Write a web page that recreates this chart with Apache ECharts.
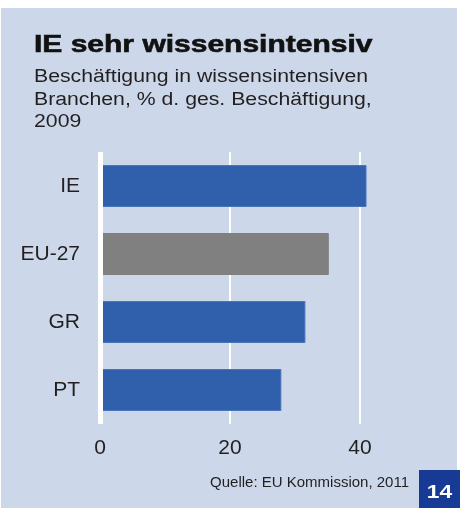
<!DOCTYPE html>
<html>
<head>
<meta charset="utf-8">
<script src="https://cdn.jsdelivr.net/npm/echarts@6/dist/echarts.min.js"></script>
<style>
  html, body { margin: 0; padding: 0; background: #ffffff; }
  #chart { width: 460px; height: 508px; }
</style>
</head>
<body>
<div id="chart"></div>
<script>
// data
const categories = ['IE', 'EU-27', 'GR', 'PT'];
const shares = [41.0, 35.2, 31.6, 27.9];
const barColors = ['#3060ab', '#808080', '#3060ab', '#3060ab'];
const xTicks = [0, 20, 40];

const title = 'IE sehr wissensintensiv';
const subtitleLines = ['Beschäftigung in wissensintensiven', 'Branchen, % d. ges. Beschäftigung,', '2009'];
const source = 'Quelle: EU Kommission, 2011';
const pageNo = '14';

const bg = '#ccd8ea';
const ink = '#231f20';

let chart = echarts.init(document.getElementById('chart'));

let graphics = [
  { type: 'rect', shape: { x: 1, y: 8, width: 456, height: 500 }, style: { fill: bg }, z: -10 },
  { type: 'text', x: 34, y: 45.5, scaleX: 1.25,
    style: { text: title, font: 'bold 24px "Liberation Sans", Arial, sans-serif', fill: '#111111',
      stroke: '#111111', lineWidth: 0.6, verticalAlign: 'middle' } },
  { type: 'text', x: 409, y: 483, style: { text: source, font: '15px "Liberation Sans", Arial, sans-serif', fill: ink, align: 'right', verticalAlign: 'middle' } },
  { type: 'rect', shape: { x: 419, y: 470, width: 41, height: 38 }, style: { fill: '#173b94' } },
  { type: 'text', x: 439.5, y: 492.5, scaleX: 1.2,
    style: { text: pageNo, font: 'bold 19px "Liberation Sans", Arial, sans-serif', fill: '#ffffff', align: 'center', verticalAlign: 'middle' } }
];
subtitleLines.forEach((line, i) => {
  graphics.push({ type: 'text', x: 34, y: 77.5 + i * 22.5, scaleX: 1.18,
    style: { text: line, font: '18px "Liberation Sans", Arial, sans-serif', fill: ink, verticalAlign: 'middle' } });
});

const option = {
  backgroundColor: '#ffffff',
  animation: false,
  textStyle: { fontFamily: '"Liberation Sans", Arial, sans-serif' },
  graphic: graphics,
  grid: { left: 100, top: 152, width: 260, height: 272, containLabel: false },
  xAxis: {
    type: 'value',
    min: xTicks[0],
    max: xTicks[xTicks.length - 1],
    interval: 20,
    axisLine: { show: false },
    axisTick: { show: false },
    splitLine: { show: true, lineStyle: { color: '#ffffff', width: 2 } },
    axisLabel: { fontSize: 21, color: ink, margin: 14 }
  },
  yAxis: {
    type: 'category',
    data: categories,
    inverse: true,
    z: 5,
    axisLine: { show: true, lineStyle: { color: '#ffffff', width: 5, cap: 'butt' } },
    axisTick: { show: false },
    axisLabel: { fontSize: 21, color: ink, margin: 20 }
  },
  series: [{
    type: 'bar',
    barWidth: 42,
    clip: false,
    data: shares.map((v, i) => ({
      value: v,
      itemStyle: { color: barColors[i], borderColor: i === 1 ? '#808080' : '#4a74b8', borderWidth: 1 }
    }))
  }]
};
chart.setOption(option);
</script>
</body>
</html>
